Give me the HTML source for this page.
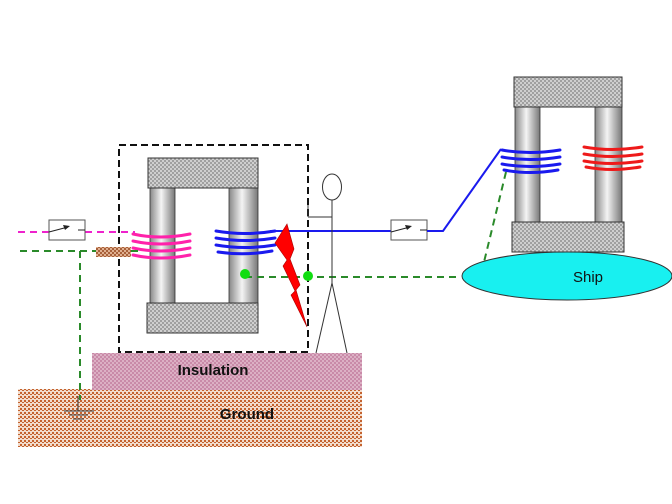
<!DOCTYPE html>
<html><head><meta charset="utf-8"><style>
html,body{margin:0;padding:0;background:#fff;}
svg{display:block;font-family:"Liberation Sans",Arial,sans-serif;}
</style></head><body>
<svg width="672" height="504" viewBox="0 0 672 504" xmlns="http://www.w3.org/2000/svg">
<defs>
<pattern id="hatch" width="4" height="4" patternUnits="userSpaceOnUse">
<rect width="4" height="4" fill="#cfcfcf"/><rect width="2" height="2" fill="#a0a0a0"/><rect x="2" y="2" width="2" height="2" fill="#a0a0a0"/>
</pattern>
<pattern id="gnd" width="4" height="4" patternUnits="userSpaceOnUse">
<rect width="4" height="4" fill="#f2dccc"/><rect width="2" height="2" fill="#c4622e"/><rect x="2" y="2" width="2" height="1" fill="#c4622e"/>
</pattern>
<pattern id="ins" width="4" height="4" patternUnits="userSpaceOnUse">
<rect width="4" height="4" fill="#dcb0c4"/><rect width="2" height="2" fill="#c98aa8"/><rect x="2" y="2" width="2" height="2" fill="#c98aa8"/>
</pattern>
<pattern id="res" width="4" height="4" patternUnits="userSpaceOnUse">
<rect width="4" height="4" fill="#e0b090"/><rect width="2" height="2" fill="#a8603a"/><rect x="2" y="2" width="2" height="2" fill="#a8603a"/>
</pattern>
<linearGradient id="leg" x1="0" x2="1" y1="0" y2="0">
<stop offset="0" stop-color="#888"/><stop offset="0.45" stop-color="#f4f4f4"/><stop offset="1" stop-color="#777"/>
</linearGradient>
</defs>

<rect x="18" y="389" width="344" height="58" fill="url(#gnd)"/>
<rect x="92" y="353" width="270" height="37" fill="url(#ins)"/>
<text x="213" y="375" font-size="15" font-weight="bold" text-anchor="middle" fill="#111">Insulation</text>
<text x="247" y="419" font-size="15" font-weight="bold" text-anchor="middle" fill="#111">Ground</text>

<rect x="119" y="145" width="189" height="207" fill="none" stroke="#111" stroke-width="2" stroke-dasharray="7,4"/>

<rect x="150" y="188" width="25" height="116" fill="url(#leg)" stroke="#333" stroke-width="0.8"/>
<rect x="229" y="188" width="29" height="116" fill="url(#leg)" stroke="#333" stroke-width="0.8"/>
<rect x="148" y="158" width="110" height="30" fill="url(#hatch)" stroke="#333"/>
<rect x="147" y="303" width="111" height="30" fill="url(#hatch)" stroke="#333"/>
<g stroke="#ff22aa" stroke-width="3" fill="none" stroke-linecap="round">
<path d="M133 234 Q160 240 190 234"/><path d="M133 241 Q160 247 190 241"/><path d="M133 248 Q160 254 190 248"/><path d="M133 255 Q160 261 190 255"/>
</g>
<g stroke="#1a1aee" stroke-width="3" fill="none" stroke-linecap="round">
<path d="M216 231 Q245 236 275 231"/><path d="M216 238 Q245 243 275 238"/><path d="M216 245 Q245 250 275 245"/><path d="M218 252 Q245 256 272 251"/>
</g>

<rect x="515" y="107" width="25" height="116" fill="url(#leg)" stroke="#333" stroke-width="0.8"/>
<rect x="595" y="107" width="27" height="116" fill="url(#leg)" stroke="#333" stroke-width="0.8"/>
<rect x="514" y="77" width="108" height="30" fill="url(#hatch)" stroke="#333"/>
<rect x="512" y="222" width="112" height="30" fill="url(#hatch)" stroke="#333"/>
<g stroke="#1a1aee" stroke-width="3" fill="none" stroke-linecap="round">
<path d="M502 150 Q530 155 560 150"/><path d="M502 157 Q530 162 560 157"/><path d="M502 164 Q530 169 560 164"/><path d="M504 170 Q530 175 558 170"/>
</g>
<g stroke="#ee1a1a" stroke-width="3" fill="none" stroke-linecap="round">
<path d="M584 147 Q612 152 642 147"/><path d="M584 154 Q612 159 642 154"/><path d="M584 161 Q612 166 642 161"/><path d="M586 167 Q612 172 640 167"/>
</g>

<ellipse cx="567" cy="276" rx="105" ry="24" fill="#18f0f0" stroke="#333"/>
<text x="588" y="282" font-size="15" text-anchor="middle" fill="#111">Ship</text>

<g stroke="#2a8a2a" stroke-width="2" stroke-dasharray="7,5" fill="none">
<line x1="245" y1="277" x2="461" y2="277"/>
<line x1="506" y1="172" x2="484" y2="262"/>
<line x1="20" y1="251" x2="96" y2="251"/>
<line x1="131" y1="251" x2="140" y2="251"/>
<line x1="80" y1="251" x2="80" y2="400"/>
</g>
<circle cx="245" cy="274" r="5" fill="#11dd11"/>
<circle cx="308" cy="276" r="5" fill="#11dd11"/>

<rect x="96" y="247" width="35" height="10" fill="url(#res)"/>

<g stroke="#333" stroke-width="1">
<line x1="78" y1="396" x2="78" y2="411"/>
<line x1="64" y1="411" x2="94" y2="411"/>
<line x1="69" y1="415" x2="88" y2="415"/>
<line x1="73" y1="419" x2="84" y2="419"/>
</g>

<line x1="18" y1="232" x2="49" y2="232" stroke="#ee22cc" stroke-width="2" stroke-dasharray="7,5"/>
<line x1="85" y1="232" x2="135" y2="232" stroke="#ee22cc" stroke-width="2" stroke-dasharray="7,5"/>
<rect x="49" y="220" width="36" height="20" fill="#fff" stroke="#555"/>
<line x1="49" y1="232" x2="68" y2="227" stroke="#222"/>
<polygon points="70,226 63,225 65,230" fill="#222"/>
<line x1="78" y1="230" x2="85" y2="230" stroke="#222"/>

<polyline points="270,231 391,231" stroke="#1a1aee" stroke-width="2" fill="none"/>
<rect x="391" y="220" width="36" height="20" fill="#fff" stroke="#555"/>
<line x1="391" y1="232" x2="410" y2="227" stroke="#222"/>
<polygon points="412,226 405,225 407,230" fill="#222"/>
<line x1="420" y1="230" x2="427" y2="230" stroke="#222"/>
<polyline points="427,231 443,231 501,149" stroke="#1a1aee" stroke-width="2" fill="none"/>

<polygon points="287,224 294,249 290,259 300,285 296,290 307,327 291,295 295,291 283,266 287,260 275,243" fill="#ff0000" stroke="#aa0000" stroke-width="0.6"/>

<g stroke="#333" stroke-width="1" fill="none">
<ellipse cx="332" cy="187" rx="9.5" ry="13" fill="#fff"/>
<line x1="332" y1="200" x2="332" y2="283"/>
<line x1="308" y1="217" x2="332" y2="217"/>
<line x1="308" y1="205" x2="308" y2="217"/>
<line x1="332" y1="283" x2="316" y2="353"/>
<line x1="332" y1="283" x2="347" y2="353"/>
</g>
</svg>
</body></html>
